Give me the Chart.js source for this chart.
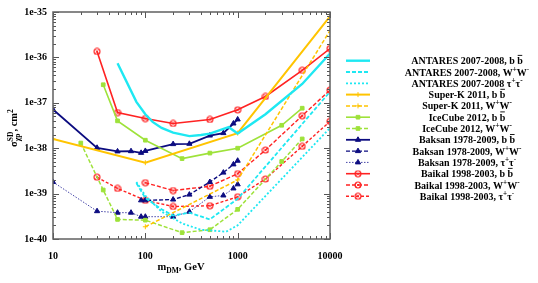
<!DOCTYPE html>
<html>
<head>
<meta charset="utf-8">
<script src="https://cdn.jsdelivr.net/npm/chart.js@4.4.0/dist/chart.umd.min.js"></script>
<style>
  html, body { margin: 0; padding: 0; background: #fff; }
  #wrap { width: 538px; height: 283px; position: relative; }
</style>
</head>
<body>
<div id="wrap"><canvas id="chart"></canvas></div>
<script>
// ── Data (mass in GeV, cross-section in cm^2) ─────────────────
const antaresBbMass  = [50, 80, 100, 120, 150, 200, 300, 400, 500, 800, 1000, 2000, 5000, 10000];
const antaresBbSigma = [7.4e-37, 1.05e-37, 5.6e-38, 3.8e-38, 2.8e-38, 2.2e-38, 1.85e-38, 1.95e-38, 2.1e-38, 2.9e-38, 2.1e-38, 5.6e-38, 2.6e-37, 1.22e-36];
const antaresWwMass  = [80, 100, 150, 200, 300, 500, 1000, 10000];
const antaresWwSigma = [1.7e-39, 8e-40, 4.5e-40, 3.3e-40, 3.8e-40, 2.7e-40, 7.7e-40, 1.75e-37];
const antaresTtMass  = [80, 100, 150, 250, 400, 750, 1000, 10000];
const antaresTtSigma = [1.8e-39, 9e-40, 4e-40, 2.2e-40, 1.6e-40, 1.45e-40, 2e-40, 2.8e-38];

const superkBbMass  = [10, 100, 1000, 10000];
const superkBbSigma = [1.6e-38, 4.8e-39, 2.15e-38, 8e-36];
const superkWwMass  = [100, 1000, 10000];
const superkWwSigma = [1.86e-40, 2e-39, 3.9e-36];

const icecubeBbMass  = [35, 50, 100, 250, 500, 1000, 3000, 5000];
const icecubeBbSigma = [2.5e-37, 4e-38, 1.5e-38, 5.9e-39, 7.8e-39, 1e-38, 3.2e-38, 7.6e-38];
const icecubeWwMass  = [20, 35, 50, 100, 250, 500, 1000, 3000, 5000];
const icecubeWwSigma = [1.3e-38, 1.2e-39, 2.7e-40, 2.6e-40, 1.38e-40, 1.6e-40, 4.5e-40, 5.1e-39, 1.6e-38];

const baksanBbMass  = [10, 30, 50, 70, 90, 100, 200, 300, 500, 700, 900, 1000];
const baksanBbSigma = [7.1e-38, 1.02e-38, 8.5e-39, 8.6e-39, 7.9e-39, 8.7e-39, 1.23e-38, 1.25e-38, 1.9e-38, 2.15e-38, 3.5e-38, 4.3e-38];
const baksanWwMass  = [90, 100, 200, 300, 500, 700, 900, 1000];
const baksanWwSigma = [7.1e-40, 7.1e-40, 7.4e-40, 9.5e-40, 1.8e-39, 2.9e-39, 4.4e-39, 5.3e-39];
const baksanTtMass  = [10, 30, 50, 70, 90, 100, 200, 300, 500, 700, 900, 1000];
const baksanTtSigma = [1.8e-39, 4.1e-40, 3.8e-40, 3.8e-40, 3.1e-40, 3.1e-40, 3.1e-40, 4e-40, 8.5e-40, 9.1e-40, 1.3e-39, 1.6e-39];

const baikalBbMass  = [30, 50, 100, 200, 500, 1000, 2000, 5000, 10000];
const baikalBbSigma = [1.35e-36, 6.1e-38, 4.5e-38, 3.5e-38, 4.3e-38, 7e-38, 1.38e-37, 5.2e-37, 1.57e-36];
const baikalWwMass  = [100, 200, 500, 1000, 2000, 5000, 10000];
const baikalWwSigma = [1.74e-39, 1.17e-39, 1.45e-39, 2.75e-39, 9.1e-39, 5.2e-38, 1.9e-37];
const baikalTtMass  = [30, 50, 100, 200, 500, 1000, 2000, 5000, 10000];
const baikalTtSigma = [2.3e-39, 1.3e-39, 7.1e-40, 5.2e-40, 5.4e-40, 8.5e-40, 2.1e-39, 1.1e-38, 3.9e-38];

const xDecades = [10, 100, 1000, 10000];
const yDecades = [-40, -39, -38, -37, -36, -35];

// ── Styling ───────────────────────────────────────────────────
const CYAN = "#1ee8f2";
const GOLD = "#ffc400";
const LIME = "#9ee23a";
const NAVY = "#0c0c80";
const NAVY_DOT = "#4646a8";
const RED = "#ff2222";
const SERIF = '"Liberation Serif", "Times New Roman", serif';

function ringCross(color) {
  const c = document.createElement("canvas");
  c.width = 8; c.height = 8;
  const g = c.getContext("2d");
  g.strokeStyle = color;
  g.lineWidth = 1.1;
  g.beginPath(); g.arc(4, 4, 3, 0, Math.PI * 2); g.stroke();
  g.lineWidth = 0.9;
  g.beginPath();
  g.moveTo(2.4, 2.4); g.lineTo(5.6, 5.6);
  g.moveTo(5.6, 2.4); g.lineTo(2.4, 5.6);
  g.stroke();
  return c;
}
const baikalMark = ringCross(RED);

const pts = (xs, ys) => xs.map((x, i) => ({ x, y: ys[i] }));

function series(label, xs, ys, color, width, dash, style, radius) {
  return {
    label,
    data: pts(xs, ys),
    borderColor: color,
    backgroundColor: color,
    borderWidth: width,
    borderDash: dash,
    pointStyle: style || false,
    pointRadius: style ? radius : 0,
    pointBorderWidth: 1,
    pointBackgroundColor: color,
    pointBorderColor: color,
    tension: 0,
    fill: false,
  };
}

const datasets = [
  series("ANTARES 2007-2008, b ~b", antaresBbMass, antaresBbSigma, CYAN, 2.4, [], null, 0),
  series("ANTARES 2007-2008, W^+W^-", antaresWwMass, antaresWwSigma, CYAN, 1.8, [4, 2], null, 0),
  series("ANTARES 2007-2008 τ^+τ^-", antaresTtMass, antaresTtSigma, CYAN, 1.8, [2, 2], null, 0),
  series("Super-K 2011, b ~b", superkBbMass, superkBbSigma, GOLD, 2, [], "cross", 2.5),
  series("Super-K 2011, W^+W^-", superkWwMass, superkWwSigma, GOLD, 1.5, [4, 2], "cross", 2.5),
  series("IceCube 2012, b ~b", icecubeBbMass, icecubeBbSigma, LIME, 1.6, [], "rect", 2.6),
  series("IceCube 2012, W^+W^-", icecubeWwMass, icecubeWwSigma, LIME, 1.5, [4, 2], "rect", 2.6),
  series("Baksan 1978-2009, b ~b", baksanBbMass, baksanBbSigma, NAVY, 1.8, [], "triangle", 3),
  series("Baksan 1978-2009, W^+W^-", baksanWwMass, baksanWwSigma, NAVY, 1.4, [4, 2], "triangle", 3),
  series("Baksan 1978-2009, τ^+τ^-", baksanTtMass, baksanTtSigma, NAVY_DOT, 1, [1.5, 1.5], "triangle", 3),
  series("Baikal 1998-2003, b ~b", baikalBbMass, baikalBbSigma, RED, 1.6, [], baikalMark, 3),
  series("Baikal 1998-2003, W^+W^-", baikalWwMass, baikalWwSigma, RED, 1.4, [4, 2], baikalMark, 3),
  series("Baikal 1998-2003, τ^+τ^-", baikalTtMass, baikalTtSigma, RED, 1.4, [3, 2], baikalMark, 3),
];
// Baksan tau triangles are drawn in the solid navy
datasets[9].pointBackgroundColor = NAVY;
datasets[9].pointBorderColor = NAVY;

// ── Rich text (super/subscripts, bar over a letter) ───────────
function parseRich(s) {
  const out = [];
  let i = 0;
  while (i < s.length) {
    const c = s[i];
    if (c === "^" || c === "_") {
      let t;
      if (s[i + 1] === "{") { const j = s.indexOf("}", i); t = s.slice(i + 2, j); i = j + 1; }
      else { t = s[i + 1]; i += 2; }
      out.push({ t, m: c === "^" ? "sup" : "sub" });
    } else if (c === "~") {
      out.push({ t: s[i + 1], m: "bar" }); i += 2;
    } else {
      let j = i;
      while (j < s.length && !"^_~".includes(s[j])) j++;
      out.push({ t: s.slice(i, j), m: "n" }); i = j;
    }
  }
  return out;
}

function layoutRich(ctx, s, size) {
  const segs = parseRich(s);
  let x = 0, subStart = null, subEnd = 0;
  const placed = [];
  segs.forEach((seg, k) => {
    const small = seg.m === "sup" || seg.m === "sub";
    const fs = small ? size * 0.72 : size;
    ctx.font = `bold ${fs}px ${SERIF}`;
    const w = ctx.measureText(seg.t).width;
    let sx = x;
    if (seg.m === "sup" && k > 0 && segs[k - 1].m === "sub") {
      sx = subStart;
    }
    const dy = seg.m === "sup" ? -size * 0.4 : seg.m === "sub" ? size * 0.28 : 0;
    placed.push({ t: seg.t, m: seg.m, x: sx, dy, fs, w });
    if (seg.m === "sub") { subStart = x; subEnd = x + w; x += w; }
    else if (seg.m === "sup" && sx === subStart) { x = Math.max(subEnd, sx + w); }
    else x = sx + w;
  });
  return { placed, width: x };
}

function drawRich(ctx, s, x, y, size, align) {
  const { placed, width } = layoutRich(ctx, s, size);
  const x0 = align === "center" ? x - width / 2 : align === "right" ? x - width : x;
  ctx.textBaseline = "alphabetic";
  ctx.textAlign = "left";
  placed.forEach((p) => {
    ctx.font = `bold ${p.fs}px ${SERIF}`;
    ctx.fillText(p.t, x0 + p.x, y + p.dy);
    if (p.m === "bar") {
      ctx.save();
      ctx.lineWidth = 0.9;
      ctx.beginPath();
      ctx.moveTo(x0 + p.x + 0.5, y - size * 0.88);
      ctx.lineTo(x0 + p.x + p.w - 0.5, y - size * 0.88);
      ctx.stroke();
      ctx.restore();
    }
  });
}

// ── Frame, log ticks, titles and legend ───────────────────────
const decorations = {
  id: "decorations",
  afterDraw(chart) {
    const { ctx, chartArea: a, scales } = chart;
    const xs = scales.x, ys = scales.y;
    ctx.save();

    // minor + major ticks on all four sides, pointing inward
    ctx.strokeStyle = "#555";
    ctx.lineWidth = 1;
    ctx.beginPath();
    xDecades.forEach((d) => {
      for (let m = 1; m <= 9; m++) {
        const v = d * m;
        if (v > 10000) break;
        const px = Math.round(xs.getPixelForValue(v)) + 0.5;
        const len = m === 1 ? 6 : 3;
        ctx.moveTo(px, a.bottom); ctx.lineTo(px, a.bottom - len);
        ctx.moveTo(px, a.top); ctx.lineTo(px, a.top + len);
      }
    });
    yDecades.forEach((e) => {
      for (let m = 1; m <= 9; m++) {
        if (e === -35 && m > 1) break;
        const py = Math.round(ys.getPixelForValue(m * Math.pow(10, e))) + 0.5;
        const len = m === 1 ? 6 : 3;
        ctx.moveTo(a.left, py); ctx.lineTo(a.left + len, py);
        ctx.moveTo(a.right, py); ctx.lineTo(a.right - len, py);
      }
    });
    ctx.stroke();

    ctx.strokeStyle = "#606060";
    ctx.lineWidth = 1.5;
    ctx.strokeRect(a.left, a.top, a.right - a.left, a.bottom - a.top);

    // axis titles
    ctx.fillStyle = "#000";
    ctx.strokeStyle = "#000";
    drawRich(ctx, "m_{DM}, GeV", 181, 270, 10.5, "center");
    ctx.save();
    ctx.translate(17, 128);
    ctx.rotate(-Math.PI / 2);
    drawRich(ctx, "σ_{χp}^{SD}, cm^2", 0, 0, 10.5, "center");
    ctx.restore();

    // legend
    chart.data.datasets.forEach((ds, i) => {
      const ly = 60.7 + i * 11.3;
      ctx.save();
      ctx.strokeStyle = ds.borderColor;
      ctx.lineWidth = ds.borderWidth;
      ctx.setLineDash(ds.borderDash);
      ctx.beginPath();
      ctx.moveTo(346, ly); ctx.lineTo(370, ly);
      ctx.stroke();
      ctx.setLineDash([]);
      if (ds.pointStyle) {
        ctx.fillStyle = ds.pointBackgroundColor;
        ctx.strokeStyle = ds.pointBorderColor;
        ctx.lineWidth = 1;
        Chart.helpers.drawPoint(ctx, { pointStyle: ds.pointStyle, radius: ds.pointRadius, rotation: 0, borderWidth: 1 }, 358, ly);
      }
      ctx.restore();
      ctx.fillStyle = "#000";
      ctx.strokeStyle = "#000";
      drawRich(ctx, ds.label, 467, ly + 3.5, 10, "center");
    });

    ctx.restore();
  },
};

function decadeLabel(v) {
  const e = Math.log10(v);
  const r = Math.round(e);
  return Math.abs(e - r) < 1e-6 ? r : null;
}

new Chart(document.getElementById("chart"), {
  type: "line",
  data: { datasets },
  options: {
    responsive: true,
    maintainAspectRatio: false,
    animation: false,
    devicePixelRatio: 1,
    layout: { padding: { left: 0, right: 208, top: 10, bottom: 0 } },
    plugins: { legend: { display: false }, tooltip: { enabled: false } },
    scales: {
      x: {
        type: "logarithmic",
        min: 10,
        max: 10000,
        grid: { display: false, drawTicks: false },
        border: { display: false },
        ticks: {
          autoSkip: false,
          maxRotation: 0,
          padding: 11,
          color: "#000",
          font: { family: SERIF, size: 10, weight: "bold" },
          callback: (v) => (decadeLabel(v) !== null ? String(Math.round(v)) : ""),
        },
        afterFit: (s) => { s.height = 44; },
      },
      y: {
        type: "logarithmic",
        min: 1e-40,
        max: 1e-35,
        grid: { display: false, drawTicks: false },
        border: { display: false },
        ticks: {
          autoSkip: false,
          padding: 6,
          color: "#000",
          font: { family: SERIF, size: 10, weight: "bold" },
          callback: (v) => {
            const r = decadeLabel(v);
            return r !== null ? `1e${r}` : "";
          },
        },
        afterFit: (s) => { s.width = 53; },
      },
    },
  },
  plugins: [decorations],
});
</script>
</body>
</html>
